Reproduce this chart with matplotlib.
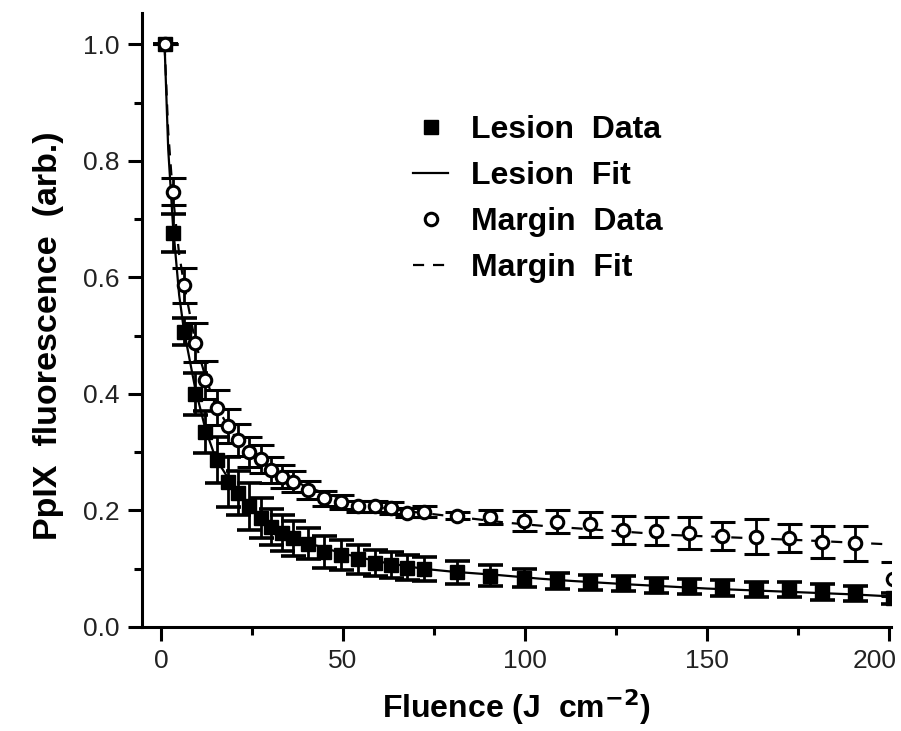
import numpy as np
import matplotlib
matplotlib.use('Agg')
import matplotlib.pyplot as plt
from matplotlib.ticker import MultipleLocator
from matplotlib.transforms import ScaledTranslation

plt.rcParams['font.family'] = ['Liberation Sans', 'DejaVu Sans']

# ------------------------------------------------------------
# data
# ------------------------------------------------------------
fluence = [1, 3.3, 6.2, 9.3, 12.2, 15.3, 18.3, 21.2, 24.3, 27.4, 30.3, 33.3,
           36.4, 40.4, 44.9, 49.5, 54.1, 58.7, 63.2, 67.7, 72.2, 81.3, 90.4,
           99.6, 108.7, 117.8, 126.9, 136.0, 145.1, 154.2, 163.3, 172.4,
           181.5, 190.6, 201]

lesion_y = [1.0, 0.676, 0.507, 0.400, 0.335, 0.287, 0.249, 0.230, 0.207,
            0.187, 0.172, 0.161, 0.152, 0.143, 0.129, 0.124, 0.116, 0.110,
            0.106, 0.102, 0.100, 0.094, 0.088, 0.084, 0.079, 0.077, 0.074,
            0.071, 0.069, 0.067, 0.065, 0.064, 0.060, 0.058, 0.049]
lesion_err = [0, 0.033, 0.023, 0.036, 0.036, 0.040, 0.043, 0.037, 0.041,
              0.034, 0.031, 0.031, 0.030, 0.027, 0.027, 0.026, 0.025, 0.023,
              0.022, 0.022, 0.021, 0.020, 0.018, 0.016, 0.014, 0.013, 0.013,
              0.013, 0.013, 0.013, 0.013, 0.013, 0.013, 0.013, 0.010]

margin_y = [1.0, 0.747, 0.587, 0.488, 0.424, 0.376, 0.345, 0.321, 0.300,
            0.288, 0.270, 0.258, 0.249, 0.235, 0.221, 0.215, 0.207, 0.207,
            0.204, 0.196, 0.198, 0.191, 0.188, 0.182, 0.181, 0.176, 0.167,
            0.165, 0.161, 0.157, 0.155, 0.153, 0.146, 0.144, 0.082]
margin_err = [0, 0.023, 0.030, 0.033, 0.033, 0.030, 0.030, 0.028, 0.026,
              0.024, 0.022, 0.020, 0.018, 0.015, 0.013, 0.012, 0.010, 0.010,
              0.010, 0.008, 0.010, 0.006, 0.012, 0.017, 0.020, 0.021, 0.024,
              0.024, 0.027, 0.024, 0.030, 0.024, 0.028, 0.030, 0.029]

# fit curves (sampled from the drawn lines)
lesion_fit_x = [1, 2, 3.3, 5, 6.3, 9.4, 12.2, 15, 20, 25, 30, 40, 50, 60,
                72, 80, 93, 104, 113, 129, 150, 170, 190, 202]
lesion_fit_y = [1.0, 0.82, 0.69, 0.57, 0.51, 0.41, 0.34, 0.29, 0.24, 0.20,
                0.175, 0.145, 0.126, 0.112, 0.100, 0.095, 0.089, 0.083,
                0.079, 0.073, 0.066, 0.061, 0.056, 0.052]
margin_fit_x = [1, 2, 3.3, 5, 6.3, 9.4, 12.2, 15, 20, 25, 30, 40, 50, 60,
                70, 80, 95, 106, 122, 140, 160, 176, 186, 203]
margin_fit_y = [1.0, 0.85, 0.74, 0.64, 0.59, 0.49, 0.43, 0.38, 0.33, 0.30,
                0.275, 0.240, 0.220, 0.205, 0.197, 0.190, 0.179, 0.173,
                0.166, 0.158, 0.153, 0.149, 0.146, 0.141]

x_ticks = [0, 50, 100, 150, 200]

# ------------------------------------------------------------
# figure
# ------------------------------------------------------------
fig = plt.figure(figsize=(9.01, 7.31), dpi=100)
ax = fig.add_axes([142 / 901, 104 / 731, 749 / 901, 614 / 731])

fit_l, = ax.plot(lesion_fit_x, lesion_fit_y, '-', color='black', lw=1.6,
                 zorder=2)
fit_m, = ax.plot(margin_fit_x, margin_fit_y, color='black', lw=1.6,
                 linestyle=(0, (5, 4)), zorder=2)

eb_l = ax.errorbar(fluence, lesion_y, yerr=lesion_err, fmt='s',
                   color='black', ms=10, mec='black', mfc='black',
                   elinewidth=2, capsize=9, capthick=2.6, zorder=3)
eb_m = ax.errorbar(fluence, margin_y, yerr=margin_err, fmt='o',
                   color='black', ms=9, mec='black', mfc='white', mew=2.2,
                   elinewidth=2, capsize=9, capthick=2.6, zorder=4)

ax.set_xlim(-5.2, 200.5)
ax.set_ylim(0, 1.054)
ax.set_xticks(x_ticks)
ax.xaxis.set_minor_locator(MultipleLocator(25))
ax.yaxis.set_major_locator(MultipleLocator(0.2))
ax.yaxis.set_minor_locator(MultipleLocator(0.1))
ax.yaxis.set_major_formatter(plt.FormatStrFormatter('%.1f'))

for side in ['top', 'right']:
    ax.spines[side].set_visible(False)
for side in ['left', 'bottom']:
    ax.spines[side].set_linewidth(2.2)

ax.tick_params(which='major', direction='out', length=10, width=2.2,
               labelsize=19, labelcolor='#222222', pad=6)
ax.tick_params(which='minor', direction='out', length=6, width=2.2)

ax.set_xlabel('Fluence (J  cm$^{\\mathbf{-2}}$)', fontsize=23,
              fontweight='bold')
ax.set_ylabel('PpIX  fluorescence  (arb.)', fontsize=24.5,
              fontweight='bold')
ax.xaxis.set_label_coords(0.5, -0.098)
ax.xaxis.label.set_va('top')
ax.yaxis.set_label_coords(-0.104, 0.474)

ax.legend([eb_l[0], fit_l, eb_m[0], fit_m],
          ['Lesion  Data', 'Lesion  Fit', 'Margin  Data', 'Margin  Fit'],
          loc='upper left', bbox_to_anchor=(0.362, 0.834),
          frameon=False, prop={'weight': 'bold', 'size': 23},
          handlelength=1.1, handletextpad=0.7, labelspacing=0.5,
          borderpad=0, borderaxespad=0, markerscale=1.0)

# the last tick label sits a little to the left so it stays inside
fig.canvas.draw()
last = ax.get_xticklabels()[-1]
last.set_transform(last.get_transform()
                   + ScaledTranslation(-0.15, 0, fig.dpi_scale_trans))

fig.savefig('out.png', dpi=100)
